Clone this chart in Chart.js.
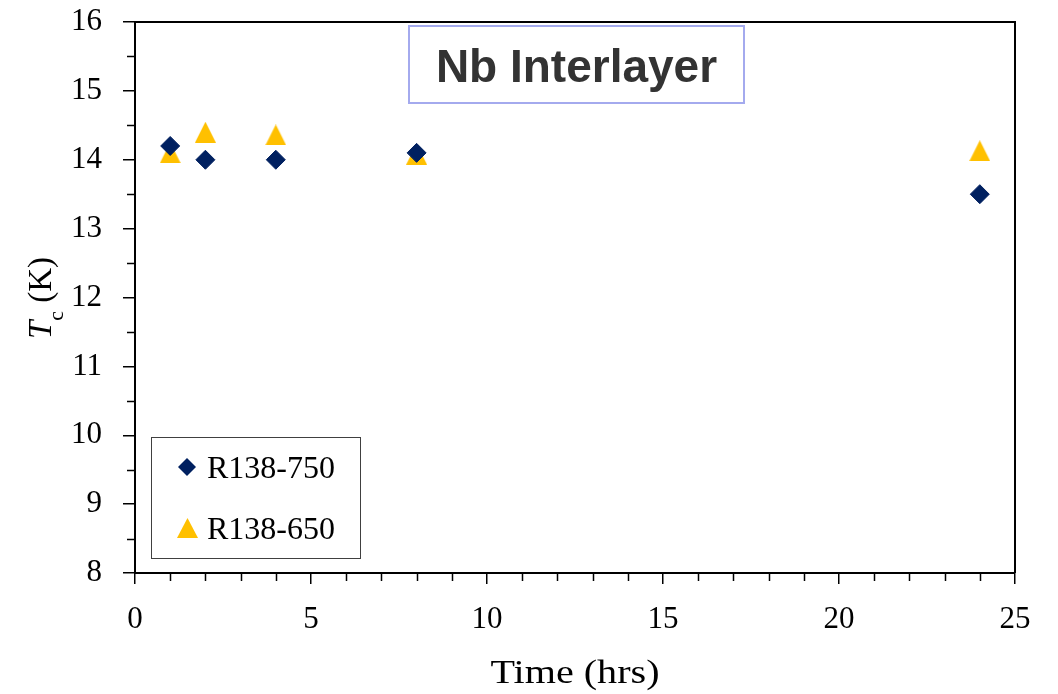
<!DOCTYPE html>
<html>
<head>
<meta charset="utf-8">
<script src="https://cdn.jsdelivr.net/npm/chart.js@4.4.1/dist/chart.umd.min.js"></script>
<style>
  html, body { margin: 0; padding: 0; background: #fff; }
  #c { display: block; }
</style>
</head>
<body>
<canvas id="c" width="1058" height="694"></canvas>
<script>
// Annealing time (hours) and measured critical temperature Tc (K)
const hours750 = [1, 2, 4, 8, 24];
const tc750    = [14.2, 14.0, 14.0, 14.1, 13.5];
const hours650 = [1, 2, 4, 8, 24];
const tc650    = [14.1, 14.4, 14.36, 14.08, 14.13];

const seriesNames = ['R138-750', 'R138-650'];
const xTicks = [0, 5, 10, 15, 20, 25];
const yTicks = [8, 9, 10, 11, 12, 13, 14, 15, 16];
const chartTitle = 'Nb Interlayer';
const xTitle = 'Time (hrs)';

const NAVY = '#002060';
const GOLD = '#FFC000';
const SERIF = '"Liberation Serif", "Times New Roman", serif';

// Triangle marker as an image so it sits centred on its bounding box
function triangleImage(w, h, color) {
  const cv = document.createElement('canvas');
  cv.width = w; cv.height = h;
  const g = cv.getContext('2d');
  g.fillStyle = color;
  g.beginPath();
  g.moveTo(w / 2, 0);
  g.lineTo(w, h);
  g.lineTo(0, h);
  g.closePath();
  g.fill();
  return cv;
}
const triPlot = triangleImage(21, 21, GOLD);
const triLegend = triangleImage(21, 20, GOLD);

function toPoints(xs, ys) { return xs.map((v, i) => ({ x: v, y: ys[i] })); }

function diamond(ctx, cx, cy, r, color) {
  ctx.beginPath();
  ctx.moveTo(cx, cy - r);
  ctx.lineTo(cx + r, cy);
  ctx.lineTo(cx, cy + r);
  ctx.lineTo(cx - r, cy);
  ctx.closePath();
  ctx.fillStyle = color;
  ctx.fill();
}

// Frame, minor ticks, axis titles, title box and legend box
const decorations = {
  id: 'decorations',
  afterDraw(chart) {
    const { ctx, chartArea: a, scales: { x, y } } = chart;
    ctx.save();

    // top and right frame lines
    ctx.strokeStyle = '#000';
    ctx.lineWidth = 2;
    ctx.beginPath();
    ctx.moveTo(a.left - 1, a.top);
    ctx.lineTo(a.right, a.top);
    ctx.lineTo(a.right, a.bottom);
    ctx.stroke();

    // minor ticks
    ctx.lineWidth = 1.5;
    ctx.beginPath();
    for (let v = yTicks[0] + 0.5; v < yTicks[yTicks.length - 1]; v += 1) {
      const py = Math.round(y.getPixelForValue(v)) + 0.5;
      ctx.moveTo(a.left - 8, py);
      ctx.lineTo(a.left, py);
    }
    for (let v = xTicks[0] + 1; v < xTicks[xTicks.length - 1]; v += 1) {
      if (v % 5 === 0) continue;
      const px = Math.round(x.getPixelForValue(v)) + 0.5;
      ctx.moveTo(px, a.bottom);
      ctx.lineTo(px, a.bottom + 8);
    }
    ctx.stroke();

    // x-axis title
    ctx.fillStyle = '#000';
    ctx.font = '33px ' + SERIF;
    ctx.textAlign = 'center';
    ctx.textBaseline = 'alphabetic';
    const tw = ctx.measureText(xTitle).width;
    ctx.save();
    ctx.translate((a.left + a.right) / 2, 683);
    ctx.scale(169 / tw, 1);
    ctx.fillText(xTitle, 0, 0);
    ctx.restore();

    // y-axis title: italic T with subscript c, then (K)
    ctx.save();
    ctx.translate(51, 298);
    ctx.rotate(-Math.PI / 2);
    ctx.textAlign = 'left';
    const fMain = 'italic 33px ' + SERIF;
    const fSub = '22px ' + SERIF;
    const fRest = '33px ' + SERIF;
    ctx.font = fMain; const wT = ctx.measureText('T').width;
    ctx.font = fSub;  const wC = ctx.measureText('c').width;
    ctx.font = fRest; const wK = ctx.measureText(' (K)').width;
    let cx = -(wT + wC + wK) / 2;
    ctx.font = fMain; ctx.fillText('T', cx, 0); cx += wT;
    ctx.font = fSub;  ctx.fillText('c', cx, 12); cx += wC;
    ctx.font = fRest; ctx.fillText(' (K)', cx, 0);
    ctx.restore();

    // title box
    ctx.fillStyle = '#fff';
    ctx.fillRect(409, 26, 335, 77);
    ctx.strokeStyle = '#A4AAEE';
    ctx.lineWidth = 2;
    ctx.strokeRect(409, 26, 335, 77);
    ctx.fillStyle = '#333333';
    ctx.font = 'bold 46px "Liberation Sans", Arial, sans-serif';
    ctx.textAlign = 'center';
    ctx.fillText(chartTitle, 576.5, 82);

    // legend box
    const lx = a.left + 16, ly = a.bottom - 136, lw = 209, lh = 121;
    ctx.fillStyle = '#fff';
    ctx.fillRect(lx, ly, lw, lh);
    ctx.strokeStyle = '#404040';
    ctx.lineWidth = 1;
    ctx.strokeRect(lx + 0.5, ly + 0.5, lw, lh);
    diamond(ctx, lx + 36, ly + 30, 9, NAVY);
    ctx.drawImage(triLegend, lx + 26, ly + 81);
    ctx.fillStyle = '#000';
    ctx.font = '32px ' + SERIF;
    ctx.textAlign = 'left';
    ctx.textBaseline = 'alphabetic';
    ctx.fillText(seriesNames[0], lx + 56, ly + 41);
    ctx.fillText(seriesNames[1], lx + 56, ly + 102);

    ctx.restore();
  }
};

new Chart(document.getElementById('c'), {
  type: 'scatter',
  data: {
    datasets: [
      {
        label: seriesNames[0],
        data: toPoints(hours750, tc750),
        pointStyle: 'rectRot',
        pointRadius: 9.5,
        backgroundColor: NAVY,
        borderColor: NAVY,
        borderWidth: 1
      },
      {
        label: seriesNames[1],
        data: toPoints(hours650, tc650),
        pointStyle: triPlot,
        pointRadius: 10,
        backgroundColor: GOLD,
        borderColor: GOLD,
        borderWidth: 0
      }
    ]
  },
  options: {
    responsive: false,
    devicePixelRatio: 1,
    animation: false,
    events: [],
    layout: { padding: { top: 22, right: 43, left: 0, bottom: 0 } },
    plugins: {
      legend: { display: false },
      tooltip: { enabled: false },
      title: { display: false }
    },
    scales: {
      x: {
        type: 'linear',
        min: xTicks[0],
        max: xTicks[xTicks.length - 1],
        ticks: {
          stepSize: xTicks[1] - xTicks[0],
          color: '#000',
          font: { family: SERIF, size: 31 },
          padding: 17,
          maxRotation: 0
        },
        grid: {
          drawOnChartArea: false,
          drawTicks: true,
          tickLength: 11,
          color: '#000',
          lineWidth: 1.5
        },
        border: { display: true, color: '#000', width: 2 },
        afterFit(scale) {
          scale.height = 121;
          scale.paddingLeft = 0;
          scale.paddingRight = 0;
        }
      },
      y: {
        type: 'linear',
        min: yTicks[0],
        max: yTicks[yTicks.length - 1],
        ticks: {
          stepSize: yTicks[1] - yTicks[0],
          color: '#000',
          font: { family: SERIF, size: 31 },
          padding: 21
        },
        grid: {
          drawOnChartArea: false,
          drawTicks: true,
          tickLength: 12,
          color: '#000',
          lineWidth: 1.5
        },
        border: { display: true, color: '#000', width: 2 },
        afterFit(scale) {
          scale.width = 135;
          scale.paddingTop = 0;
          scale.paddingBottom = 0;
        }
      }
    }
  },
  plugins: [decorations]
});
</script>
</body>
</html>
